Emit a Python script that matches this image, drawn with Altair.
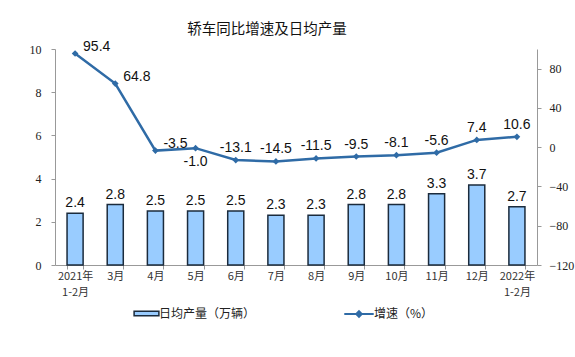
import altair as alt
import pandas as pd

categories = ["2021年\n1-2月", "3月", "4月", "5月", "6月", "7月", "8月",
              "9月", "10月", "11月", "12月", "2022年\n1-2月"]
daily_output = [2.4, 2.8, 2.5, 2.5, 2.5, 2.3, 2.3, 2.8, 2.8, 3.3, 3.7, 2.7]
growth = [95.4, 64.8, -3.5, -1.0, -13.1, -14.5, -11.5, -9.5, -8.1, -5.6, 7.4, 10.6]
bar_name = "日均产量（万辆）"
line_name = "增速（%）"

df = pd.DataFrame({
    "month": categories,
    "daily": daily_output,
    "growth": growth,
    "daily_label": [f"{v:.1f}" for v in daily_output],
    "growth_label": [f"{v:.1f}" for v in growth],
    "bar_series": bar_name,
    "line_series": line_name,
})

CJK = "Noto Sans CJK SC"
SERIF = "Liberation Serif"
SANS = "Liberation Sans"
BAR_FILL = "#99CCFF"
LINE_COL = "#2F6BA6"

x = alt.X(
    "month:N", sort=categories,
    scale=alt.Scale(paddingInner=0.6, paddingOuter=0.3),
    axis=alt.Axis(title=None, labelAngle=0, labelExpr="split(datum.label, '\\n')",
                  tickBand="extent", tickSize=4, tickColor="#999999",
                  domainColor="#999999", labelFont=CJK, labelFontSize=11,
                  labelColor="#333333", labelPadding=1, labelLineHeight=16),
)

base = alt.Chart(df).encode(x=x)

y_left = alt.Y("daily:Q", scale=alt.Scale(domain=[0, 10]),
               axis=alt.Axis(title=None, values=[0, 2, 4, 6, 8, 10], grid=False,
                             tickSize=4, tickColor="#999999", domainColor="#999999",
                             labelFont=SERIF, labelFontSize=12, labelColor="#222222",
                             labelPadding=10))

bars = base.mark_bar(stroke="#1B2B3C", strokeWidth=1.5).encode(
    y=y_left,
    fill=alt.Fill("bar_series:N", scale=alt.Scale(range=[BAR_FILL]),
                  legend=alt.Legend(title=None, orient="none", legendX=83, legendY=256,
                                    direction="horizontal",
                                    symbolType="M-1.6,-0.3L1.6,-0.3L1.6,0.3L-1.6,0.3Z",
                                    symbolStrokeColor="#1B2B3C", symbolStrokeWidth=1.5,
                                    symbolSize=240, labelFont=CJK, labelFontSize=12,
                                    labelColor="#222222", labelOffset=4)),
)
bar_text = base.mark_text(dy=-10, font=SANS, fontSize=14, color="#111111").encode(
    y=alt.Y("daily:Q"),
    text="daily_label:N",
)
left_layer = alt.layer(bars, bar_text)

y_right = alt.Y("growth:Q", scale=alt.Scale(domain=[-120, 100]),
                axis=alt.Axis(title=None, orient="right", values=[-120, -80, -40, 0, 40, 80],
                              grid=False, tickSize=4, tickColor="#999999",
                              domainColor="#999999", labelFont=SERIF, labelFontSize=12,
                              labelColor="#222222", labelPadding=8))

line = base.mark_line(strokeWidth=2.5).encode(
    y=y_right,
    stroke=alt.Stroke("line_series:N", scale=alt.Scale(range=[LINE_COL]),
                      legend=alt.Legend(title=None, orient="none", legendX=295, legendY=256,
                                        direction="horizontal",
                                        symbolType="M-1.9,0L1.9,0M0,-0.35L0.35,0L0,0.35L-0.35,0Z",
                                        symbolFillColor=LINE_COL, symbolStrokeWidth=2,
                                        symbolSize=240, labelFont=CJK, labelFontSize=12,
                                        labelColor="#222222", labelOffset=6)),
)
ry = alt.Y("growth:Q")
points = base.mark_point(shape="diamond", filled=True, size=45, color=LINE_COL, opacity=1).encode(y=ry)
lab_right = base.mark_text(align="left", dx=8, dy=-7, font=SANS, fontSize=14, color="#111111").encode(
    y=ry, text="growth_label:N").transform_filter(
    alt.FieldOneOfPredicate(field="month", oneOf=categories[:3]))
lab_below = base.mark_text(dy=14, font=SANS, fontSize=14, color="#111111").encode(
    y=ry, text="growth_label:N").transform_filter(
    alt.FieldOneOfPredicate(field="month", oneOf=[categories[3]]))
lab_above = base.mark_text(dy=-12, font=SANS, fontSize=14, color="#111111").encode(
    y=ry, text="growth_label:N").transform_filter(
    alt.FieldOneOfPredicate(field="month", oneOf=categories[4:]))
right_layer = alt.layer(line, points, lab_right, lab_below, lab_above)

chart = alt.layer(left_layer, right_layer).resolve_scale(
    y="independent", fill="independent", stroke="independent"
).properties(
    width=482, height=216,
    title=alt.TitleParams("轿车同比增速及日均产量", font=CJK, fontSize=14.5, fontWeight="normal",
                          color="#111111", anchor="middle", offset=6, dx=-29, dy=4),
    autosize=alt.AutoSizeParams(type="none"),
    padding={"left": 55, "top": 49, "right": 38, "bottom": 92},
).configure_view(stroke=None)

chart.save("out.html", embed_options={"renderer": "svg", "actions": False})
